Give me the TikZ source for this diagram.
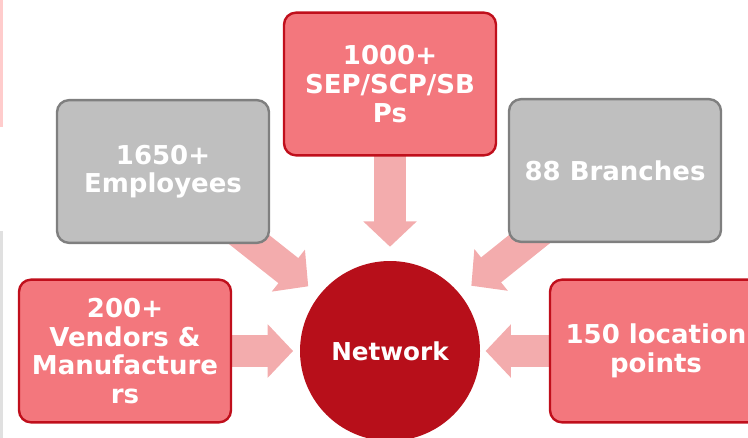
\documentclass[tikz,border=0pt]{standalone}
\usepackage{fontspec}
\setmainfont{DejaVu Sans}
\usetikzlibrary{arrows.meta,backgrounds}

\definecolor{boxred}{HTML}{F3777D}
\definecolor{boxline}{HTML}{C00F1C}
\definecolor{netred}{HTML}{B70F1A}
\definecolor{boxgray}{HTML}{BFBFBF}
\definecolor{grayline}{HTML}{7F7F7F}
\definecolor{feedpink}{HTML}{F3ACAD}

\tikzset{
  redbox/.style={draw=boxline, fill=boxred, line width=1.8pt, rounded corners=9pt,
    minimum width=159pt, minimum height=107pt, inner sep=0pt, align=center,
    text=white, font=\bfseries\fontsize{19.5}{21.5}\selectfont},
  graybox/.style={redbox, draw=grayline, fill=boxgray},
  netnode/.style={circle, fill=netred, minimum size=135pt, inner sep=0pt,
    text=white, font=\bfseries\fontsize{18.5}{21}\selectfont},
  feed/.style={draw=feedpink, line width=24pt, -{Triangle[width=39pt,length=19pt]}},
}

\begin{document}
\begin{tikzpicture}[x=0.75pt, y=-0.75pt]
  \useasboundingbox (0,0) rectangle (748,438);
  % bits of the slide at the left edge
  \fill[red!20] (0,0) rectangle (3,127);
  \fill[black!12] (0,231) rectangle (3,438);

  \node[redbox] (sep) at (390,84) {1000+\\SEP/SCP/SB\\Ps};
  \node[graybox] (emp) at (163,171.5) {1650+\\Employees};
  \node[graybox] (br) at (615,170.5) {88 Branches};
  \node[redbox] (ven) at (125,351) {200+\\Vendors \&\\Manufacture\\rs};
  \node[redbox] (loc) at (656,351) {150 location\\points};
  \node[netnode] (net) at (390,351) {Network};

  \begin{pgfonlayer}{background}
    \draw[feed, shorten >=10.5pt] (sep.center) -- (net);
    \draw[feed, shorten >=10.5pt] (emp.center) -- (net);
    \draw[feed, shorten >=10.5pt] (br.center) -- (net);
    \draw[feed, shorten >=5pt] (ven.center) -- (net);
    \draw[feed, shorten >=4pt] (loc.center) -- (net);
  \end{pgfonlayer}
\end{tikzpicture}
\end{document}
